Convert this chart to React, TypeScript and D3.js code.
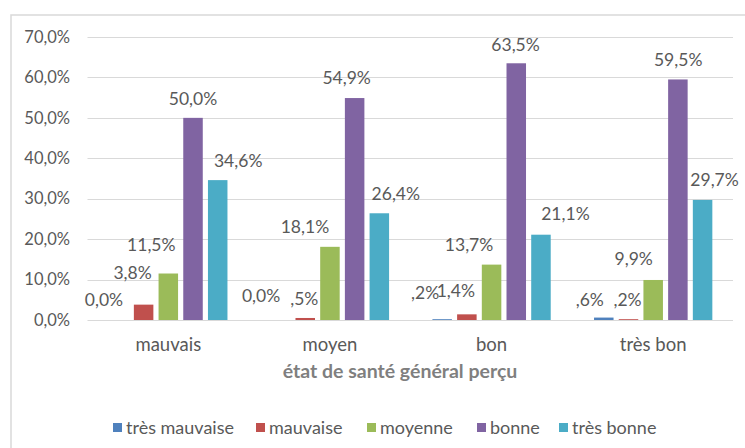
import React from "react";
import * as d3 from "d3";

const categories = ["mauvais", "moyen", "bon", "très bon"];
const seriesNames = ["très mauvaise", "mauvaise", "moyenne", "bonne", "très bonne"];
const seriesColors = ["#4f81bd", "#c0504d", "#9bbb59", "#8064a2", "#4bacc6"];
// values[category][series] in %
const valMauvais = [0.0, 3.8, 11.5, 50.0, 34.6];
const valMoyen = [0.0, 0.5, 18.1, 54.9, 26.4];
const valBon = [0.2, 1.4, 13.7, 63.5, 21.1];
const valTresBon = [0.6, 0.2, 9.9, 59.5, 29.7];
const values = [valMauvais, valMoyen, valBon, valTresBon];
const yTicks = [0, 10, 20, 30, 40, 50, 60, 70];
const xTitle = "état de santé général perçu";

// label nudges (layout only): [dx, dy] relative to bar centre / bar top
const labelNudge = [
  [[-15, -20], [-11, -31.6], [-17, -28.5], [0, -19], [20.5, -19]],
  [[-19.5, -24], [-1, -19], [-25, -20], [-8, -20], [16.5, -19.3]],
  [[-17, -26], [-11, -23], [-22.5, -19.6], [-0.7, -18.3], [24.5, -20.7]],
  [[-14, -17.6], [-1, -19.2], [-19.5, -21], [0.3, -19.4], [12, -20]],
];

const W = 745;
const H = 448;
const FONT = "Lato, 'Open Sans', sans-serif";
const TEXT = "#595959";
const GRID = "#d9d9d9";

function fmt(v: number): string {
  const s = v.toFixed(1).replace(".", ",");
  if (v > 0 && v < 1) return s.slice(1) + "%";
  return s + "%";
}

export default function App() {
  const plotLeft = 87.5;
  const plotRight = 734;
  const y = d3.scaleLinear().domain([0, 70]).range([320, 37]);
  const x0 = d3.scaleBand<string>().domain(categories).range([plotLeft, plotRight]).padding(0);
  const bw0 = x0.bandwidth();
  const groupHalf = 59.15;
  const x1 = d3
    .scaleBand<string>()
    .domain(seriesNames)
    .range([bw0 / 2 - groupHalf, bw0 / 2 + groupHalf])
    .paddingInner(0.21)
    .paddingOuter(0);

  const legendX = [113, 256, 367, 477, 559];

  return (
    <svg
      width={W}
      height={H}
      style={{ position: "absolute", left: 0, top: 0, background: "#fff" }}
      fontFamily={FONT}
    >
      <rect x={0} y={0} width={W} height={H} fill="#fff" />
      <rect x={11} y={15} width={W + 50} height={H + 50} fill="none" stroke={GRID} strokeWidth={1.5} />
      {yTicks.map((t) => (
        <g key={t}>
          <line x1={plotLeft} x2={plotRight - 1} y1={Math.round(y(t)) + 0.5} y2={Math.round(y(t)) + 0.5} stroke={GRID} strokeWidth={1} />
          <text x={70} y={y(t)} dy="0.35em" textAnchor="end" fontSize={16.5} fill={TEXT}>
            {t.toFixed(1).replace(".", ",") + "%"}
          </text>
        </g>
      ))}
      {categories.map((c, ci) => (
        <g key={c} transform={`translate(${x0(c)},0)`}>
          {seriesNames.map((s, si) => {
            const v = values[ci][si];
            const bx = x1(s)!;
            const top = y(v);
            return (
              <rect key={s} x={bx} y={top} width={x1.bandwidth()} height={y(0) - top} fill={seriesColors[si]} />
            );
          })}
          {seriesNames.map((s, si) => {
            const v = values[ci][si];
            const cx = x1(s)! + x1.bandwidth() / 2;
            const [dx, dy] = labelNudge[ci][si];
            return (
              <text key={s} x={cx + dx} y={y(v) + dy} dy="0.35em" textAnchor="middle" fontSize={17.5} fill={TEXT}>
                {fmt(v)}
              </text>
            );
          })}
          <text x={bw0 / 2} y={345} dy="0.35em" textAnchor="middle" fontSize={18.5} fill={TEXT}>
            {c}
          </text>
        </g>
      ))}
      <text x={400} y={371} dy="0.35em" textAnchor="middle" fontSize={19.5} fontWeight="bold" fill="#7f7f7f">
        {xTitle}
      </text>
      {seriesNames.map((s, si) => (
        <g key={s}>
          <rect x={legendX[si]} y={423} width={9} height={9} fill={seriesColors[si]} />
          <text x={legendX[si] + 13} y={428} dy="0.35em" fontSize={18} fill={TEXT}>
            {s}
          </text>
        </g>
      ))}
    </svg>
  );
}
